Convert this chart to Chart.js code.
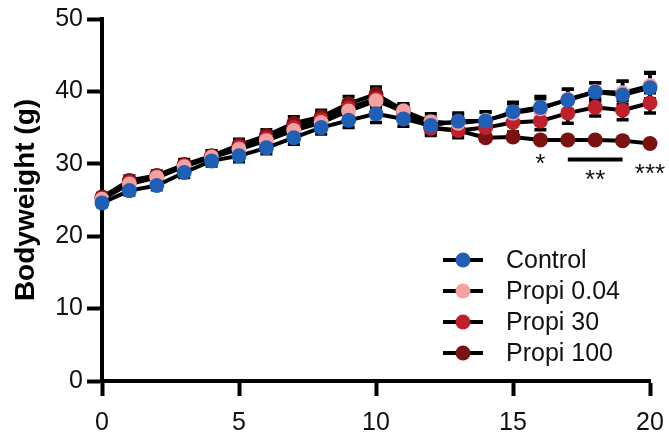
<!DOCTYPE html>
<html>
<head>
<meta charset="utf-8">
<title>Bodyweight</title>
<script src="https://cdn.jsdelivr.net/npm/chart.js@4/dist/chart.umd.min.js"></script>
<style>
  html, body { margin: 0; padding: 0; background: #fff; overflow: hidden; }
  #wrap { width: 669px; height: 432px; position: relative; }
</style>
</head>
<body>
<div id="wrap"><canvas id="chart-bw" width="669" height="432"></canvas></div>
<script>
// ── DATA ──
const days = [0, 1, 2, 3, 4, 5, 6, 7, 8, 9, 10, 11, 12, 13, 14, 15, 16, 17, 18, 19, 20]
const groupNames = ['Control', 'Propi 0.04', 'Propi 30', 'Propi 100']

const control   = [24.6, 26.3, 27.0, 28.8, 30.4, 31.1, 32.2, 33.6, 35.0, 36.0, 36.9, 36.2, 35.3, 35.9, 35.9, 37.2, 37.8, 38.8, 39.9, 39.5, 40.5]
const propi004  = [25.1, 27.2, 28.1, 29.6, 30.9, 32.0, 33.2, 34.6, 35.7, 37.3, 38.7, 37.3, 35.8, 35.6, 36.0, 37.0, 37.6, 38.9, 40.0, 39.8, 40.8]
const propi30   = [25.2, 27.4, 28.2, 29.7, 31.0, 32.3, 33.5, 35.0, 36.1, 37.7, 39.0, 37.1, 34.9, 34.6, 35.0, 35.7, 35.9, 37.0, 37.8, 37.4, 38.4]
const propi100  = [25.4, 27.7, 28.4, 29.9, 31.1, 32.6, 33.9, 35.6, 36.5, 38.3, 39.6, 37.4, 35.0, 34.6, 33.6, 33.7, 33.3, 33.3, 33.3, 33.2, 32.8]

const controlErr  = [0.5, 0.6, 0.6, 0.7, 0.7, 0.8, 0.8, 0.9, 0.9, 1.0, 1.2, 1.0, 1.1, 1.1, 1.2, 1.3, 1.5, 1.5, 1.3, 1.9, 2.0]
const propi004Err = [0.5, 0.6, 0.6, 0.7, 0.7, 0.8, 0.8, 0.9, 0.9, 1.0, 1.2, 1.0, 1.1, 1.1, 1.2, 1.3, 1.4, 1.4, 1.2, 1.6, 1.8]
const propi30Err  = [0.5, 0.6, 0.6, 0.7, 0.7, 0.8, 0.8, 0.9, 0.9, 1.0, 1.2, 1.0, 1.0, 1.0, 1.1, 1.3, 1.2, 1.4, 1.2, 1.3, 1.4]
const propi100Err = [0.5, 0.6, 0.6, 0.7, 0.7, 0.8, 0.8, 0.9, 0.9, 1.0, 1.0, 0.8, 0.6, 0.5, 0.4, 0.4, 0.3, 0.3, 0.3, 0.3, 0.3]

const groupColors = ['#1f5fb5', '#f4a1a1', '#c0202b', '#7a1212']

// significance marks
const sigX    = [16, 18, 20]
const sigY    = [28.8, 26.6, 27.5]
const sigText = ['*', '**', '***']
const sigBar  = [17, 19, 30.6]

const yTicks = [0, 10, 20, 30, 40, 50]
const xTicks = [0, 5, 10, 15, 20]

// ── CHART ──
const series = [control, propi004, propi30, propi100]
const errors = [controlErr, propi004Err, propi30Err, propi100Err]

const errorBars = {
  id: 'errorBars',
  beforeDatasetsDraw(chart) {
    const { ctx, scales: { x, y } } = chart
    ctx.save()
    ctx.strokeStyle = '#000'
    ctx.lineWidth = 3.5
    for (let d = series.length - 1; d >= 0; d--) {
      series[d].forEach((v, i) => {
        const px = x.getPixelForValue(days[i])
        const top = y.getPixelForValue(v + errors[d][i])
        const bot = y.getPixelForValue(v - errors[d][i])
        ctx.beginPath()
        ctx.moveTo(px, top); ctx.lineTo(px, bot)
        ctx.moveTo(px - 6, top); ctx.lineTo(px + 6, top)
        ctx.moveTo(px - 6, bot); ctx.lineTo(px + 6, bot)
        ctx.stroke()
      })
    }
    ctx.restore()
  }
}

const sigMarks = {
  id: 'sigMarks',
  afterDatasetsDraw(chart) {
    const { ctx, scales: { x, y } } = chart
    ctx.save()
    ctx.fillStyle = '#111'
    ctx.strokeStyle = '#000'
    ctx.lineWidth = 4
    ctx.beginPath()
    ctx.moveTo(x.getPixelForValue(sigBar[0]), y.getPixelForValue(sigBar[2]))
    ctx.lineTo(x.getPixelForValue(sigBar[1]), y.getPixelForValue(sigBar[2]))
    ctx.stroke()
    ctx.font = '26px "Liberation Sans", Arial, sans-serif'
    ctx.textAlign = 'center'
    ctx.textBaseline = 'alphabetic'
    sigText.forEach((t, i) => {
      ctx.fillText(t, x.getPixelForValue(sigX[i]), y.getPixelForValue(sigY[i]))
    })
    ctx.restore()
  }
}

const insideLegend = {
  id: 'insideLegend',
  afterDraw(chart) {
    const ctx = chart.ctx
    ctx.save()
    ctx.font = '25px "Liberation Sans", Arial, sans-serif'
    ctx.textBaseline = 'middle'
    ctx.textAlign = 'left'
    chart.data.datasets.forEach((ds, i) => {
      const ry = 260 + i * 31
      ctx.strokeStyle = '#000'
      ctx.lineWidth = 4
      ctx.beginPath()
      ctx.moveTo(443, ry); ctx.lineTo(483, ry)
      ctx.stroke()
      ctx.fillStyle = ds.pointBackgroundColor
      ctx.beginPath()
      ctx.arc(463, ry, 7.5, 0, Math.PI * 2)
      ctx.fill()
      ctx.fillStyle = '#111'
      ctx.fillText(ds.label, 506, ry + 1)
    })
    ctx.restore()
  }
}

const tickFont = { family: '"Liberation Sans", Arial, sans-serif', size: 25 }

new Chart(document.getElementById('chart-bw'), {
  type: 'line',
  data: {
    datasets: series.map((s, d) => ({
      label: groupNames[d],
      data: s.map((v, i) => ({ x: days[i], y: v })),
      borderColor: '#000',
      borderWidth: 4,
      pointBackgroundColor: groupColors[d],
      pointBorderColor: groupColors[d],
      pointBorderWidth: 0,
      pointRadius: 7.5,
      tension: 0,
      clip: false
    }))
  },
  options: {
    responsive: false,
    animation: false,
    layout: { autoPadding: false, padding: { top: 18, right: 19, bottom: 0, left: 0 } },
    plugins: { legend: { display: false }, tooltip: { enabled: false } },
    scales: {
      x: {
        type: 'linear',
        min: 0, max: 20,
        afterBuildTicks: s => { s.ticks = xTicks.map(v => ({ value: v })) },
        afterFit: s => { s.height = 51; s.paddingLeft = 0; s.paddingRight = 0 },
        ticks: { color: '#111', font: tickFont, padding: 12, maxRotation: 0 },
        grid: { drawOnChartArea: false, drawTicks: true, tickLength: 15, tickWidth: 4, tickColor: '#000' },
        border: { display: true, color: '#000', width: 4 }
      },
      y: {
        min: 0, max: 50,
        afterBuildTicks: s => { s.ticks = yTicks.map(v => ({ value: v })) },
        afterFit: s => { s.width = 102 },
        ticks: { color: '#111', font: tickFont, padding: 4 },
        grid: { drawOnChartArea: false, drawTicks: true, tickLength: 15, tickWidth: 4, tickColor: '#000' },
        border: { display: true, color: '#000', width: 4 },
        title: {
          display: true,
          text: 'Bodyweight (g)',
          color: '#000',
          font: { family: '"Liberation Sans", Arial, sans-serif', size: 28, weight: 'bold' },
          padding: { top: 9, bottom: 0 }
        }
      }
    }
  },
  plugins: [errorBars, sigMarks, insideLegend]
})
</script>
</body>
</html>
